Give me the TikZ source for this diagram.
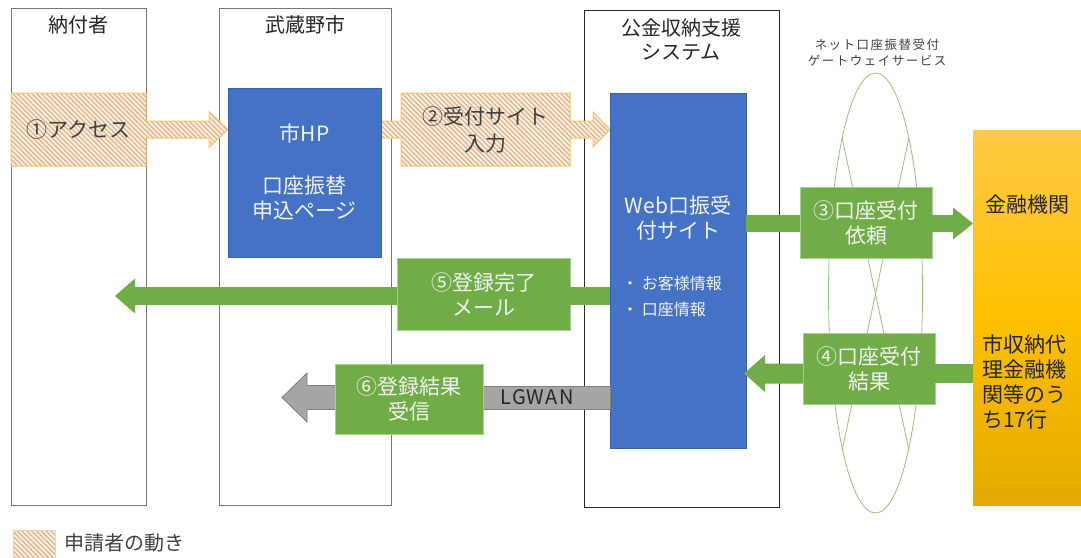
\documentclass[tikz,border=0pt]{standalone}
\usepackage{fontspec}
\setmainfont{Noto Sans CJK JP}
\usetikzlibrary{calc,patterns.meta,shapes.geometric}
\definecolor{blu}{HTML}{4472C4}
\definecolor{blud}{HTML}{3A62AA}
\definecolor{grn}{HTML}{70AD47}
\definecolor{grnl}{HTML}{A9D18E}
\definecolor{gwc}{HTML}{98C27C}
\definecolor{hatchbg}{HTML}{FAEEDF}
\definecolor{hatchln}{HTML}{DDB288}
\definecolor{hatchbd}{HTML}{F2C866}
\definecolor{gry}{HTML}{A5A5A5}
\definecolor{gryd}{HTML}{7F7F7F}
\definecolor{lanec}{HTML}{767676}
\definecolor{txt}{HTML}{404040}
\definecolor{wtxt}{HTML}{F2F2F2}
\definecolor{fintop}{HTML}{FFCA45}
\definecolor{finmid}{HTML}{FFC000}
\definecolor{finbot}{HTML}{E3AA00}
\pgfdeclarelayer{lanes}
\pgfdeclarelayer{shapes}
\pgfsetlayers{lanes,shapes,main}
% right block arrow: style, from, tip, shaft half, head half, head length
\newcommand{\barrowR}[6]{\path[#1] let \p1=#2, \p2=#3 in (\x1,{\y2+#4}) -- ({\x2-#6},{\y2+#4}) -- ({\x2-#6},{\y2+#5}) -- (\x2,\y2) -- ({\x2-#6},{\y2-#5}) -- ({\x2-#6},{\y2-#4}) -- (\x1,{\y2-#4}) -- cycle;}
\newcommand{\barrowL}[6]{\path[#1] let \p1=#2, \p2=#3 in (\x1,{\y2+#4}) -- ({\x2+#6},{\y2+#4}) -- ({\x2+#6},{\y2+#5}) -- (\x2,\y2) -- ({\x2+#6},{\y2-#5}) -- ({\x2+#6},{\y2-#4}) -- (\x1,{\y2-#4}) -- cycle;}
\tikzset{
  lane/.style={draw=#1, line width=0.9pt, anchor=north west, inner sep=0pt, outer sep=0pt},
  hdr/.style={text=black!85, align=center, font=\fontsize{20}{24}\selectfont, inner sep=0pt},
  hatchshape/.style={preaction={fill=hatchbg}, pattern={Lines[angle=-45,distance=3.4pt,line width=1.2pt]}, pattern color=hatchln, draw=hatchbd, line width=1pt},
  hatchbox/.style={anchor=north west, inner sep=0pt, outer sep=0pt},
  hatchtxt/.style={text=txt, align=center, font=\fontsize{21}{27}\selectfont, inner sep=0pt},
  bluebox/.style={fill=blu, draw=blud, line width=0.6pt, anchor=north west, inner sep=0pt, outer sep=0pt},
  wtext/.style={text=wtxt, align=center, font=\fontsize{21}{25}\selectfont, inner sep=0pt},
  gbox/.style={fill=grn, draw=grnl, line width=0.7pt, text=wtxt, align=center, font=\fontsize{21}{25}\selectfont, anchor=north west, inner sep=0pt, outer sep=0pt},
  garrow/.style={fill=grn},
  grarrow/.style={fill=gry, draw=gryd, line width=0.8pt},
  gwline/.style={draw=gwc, line width=0.8pt},
}
\begin{document}
\begin{tikzpicture}[x=1pt,y=-1pt]
\useasboundingbox (0,0) rectangle (1081,557);

% ---- lanes ----
\begin{pgfonlayer}{lanes}
\node[lane=lanec, minimum width=135pt, minimum height=497pt] (l1) at (11,8) {};
\node[lane=lanec, minimum width=172pt, minimum height=497pt] (l2) at (219,8) {};
\node[lane=black!85, minimum width=195pt, minimum height=497pt] (l3) at (584,10) {};
% gateway
\node[ellipse, gwline, minimum width=94pt, minimum height=440pt, inner sep=0pt] (gw) at (875.5,293) {};
\draw[gwline] ($(gw.center)+(-33.4,-155)$) -- ($(gw.center)+(33.4,157)$);
\draw[gwline] ($(gw.center)+(33.4,-155)$) -- ($(gw.center)+(-33.4,157)$);
\end{pgfonlayer}

\node[hdr] (h1) at (78,25) {納付者};
\node[hdr] (h2) at (305,25) {武蔵野市};
\node[hdr] (h3) at (681,40) {公金収納支援\\システム};
\node[text=black!75, align=center, font=\fontsize{12.5}{16}\selectfont\addfontfeatures{LetterSpace=12}, inner sep=0pt] (gwt) at (877,53) {ネット口座振替受付\\ゲートウェイサービス};

% ---- boxes ----
\node[bluebox, minimum width=153pt, minimum height=169pt] (hp) at (228,88) {};
\node[bluebox, minimum width=136pt, minimum height=355pt] (web) at (610,93) {};
\node[anchor=north west, inner sep=0pt, outer sep=0pt, minimum width=108pt, minimum height=375pt,
      top color=fintop, bottom color=finbot, middle color=finmid] (fin) at (973,130) {};

\node[hatchbox, minimum width=135pt, minimum height=73pt] (a1) at (11,93) {};
\node[hatchbox, minimum width=169pt, minimum height=73pt] (a2) at (401,93) {};

% ---- hatched callouts ----
\begin{pgfonlayer}{shapes}
\path[hatchshape] let \p1=(a1.east), \p2=(hp.west|-a1.east) in
  (a1.north west) -- (a1.north east) -- (\x1,{\y2+8.5pt}) -- ({\x2-19pt},{\y2+8.5pt}) -- ({\x2-19pt},{\y2+18pt})
  -- (\x2,\y2) -- ({\x2-19pt},{\y2-18pt}) -- ({\x2-19pt},{\y2-8.5pt}) -- (\x1,{\y2-8.5pt})
  -- (a1.south east) -- (a1.south west) -- cycle;
\path[hatchshape] let \p1=(hp.east|-a2.east), \p2=(web.west|-a2.east), \p3=(a2.north west), \p4=(a2.south east) in
  (\x1,{\y1+8.5pt}) -- (\x3,{\y1+8.5pt}) -- (\x3,\y3) -- (\x4,\y3) -- (\x4,{\y1+8.5pt})
  -- ({\x2-17pt},{\y1+8.5pt}) -- ({\x2-17pt},{\y1+17.5pt}) -- (\x2,\y1) -- ({\x2-17pt},{\y1-17.5pt})
  -- ({\x2-17pt},{\y1-8.5pt}) -- (\x4,{\y1-8.5pt}) -- (\x4,\y4) -- (\x3,\y4) -- (\x3,{\y1-8.5pt})
  -- (\x1,{\y1-8.5pt}) -- cycle;
\node[hatchshape, anchor=north west, inner sep=0pt, minimum width=42pt, minimum height=27pt, draw=hatchln!60, line width=0.6pt] (lg) at (13,530) {};
\end{pgfonlayer}
\node[hatchtxt] (a1t) at (a1.center) {①アクセス};
\node[hatchtxt] (a2t) at (a2.center) {②受付サイト\\入力};
\node[anchor=west, text=txt, font=\fontsize{20}{24}\selectfont, inner sep=0pt] (lgt) at (64,543) {申請者の動き};

% ---- box texts ----
\node[wtext] (hpt1) at (304.5,133) {市HP};
\node[wtext] (hpt2) at (304.5,198) {口座振替\\申込ページ};
\node[wtext] (webt1) at (678,218) {Web口振受\\付サイト};
\node[anchor=west, text=wtxt, align=left, font=\fontsize{16}{26}\selectfont, inner sep=0pt] (webt2) at (622,296) {・ お客様情報\\・ 口座情報};
\node[text=black!85, font=\fontsize{21}{25}\selectfont, inner sep=0pt] (fint1) at (1027,205) {金融機関};
\node[anchor=west, text=black!85, align=left, font=\fontsize{21}{25}\selectfont, inner sep=0pt] (fint2) at (982,382) {市収納代\\理金融機\\関等のう\\ち17行};

% ---- green flows ----
\node[gbox, minimum width=132pt, minimum height=71pt] (g3) at (800,187) {③口座受付\\依頼};
\node[gbox, minimum width=132pt, minimum height=71pt] (g4) at (803,333) {④口座受付\\結果};
\node[gbox, minimum width=173pt, minimum height=72pt] (g5) at (397,258) {⑤登録完了\\メール};

\coordinate (t5) at (115,296);
\coordinate (t6) at (282,397.5);

% 3
\fill[garrow] ($(web.east|-g3.west)+(0,-7.5)$) rectangle ($(g3.west)+(0,9.5)$);
\barrowR{garrow}{(g3.east)}{($(fin.west|-g3.east)+(0,1)$)}{8.5pt}{16pt}{20pt}
% 4
\fill[garrow] ($(g4.east)+(0,-4.5)$) rectangle ($(fin.west|-g4.east)+(0,14.5)$);
\barrowL{garrow}{(g4.west)}{($(web.east|-g4.west)+(-2,5)$)}{10pt}{18.5pt}{21pt}
% 5
\fill[garrow] ($(g5.east)+(0,-7)$) rectangle ($(web.west|-g5.east)+(0,11)$);
\barrowL{garrow}{(g5.west)}{(t5)}{9pt}{17.5pt}{20pt}
% 6
\coordinate (g6w) at (335,399);
\coordinate (g6e) at (483,399);
\barrowL{grarrow}{($(g6w)+(1,0)$)}{(t6)}{12pt}{24.5pt}{25pt}
\draw[fill=gry, draw=gryd, line width=0.8pt] ($(g6e)+(-1,-13)$) rectangle ($(web.west|-g6e)+(0,10)$);
\node[text=black!85, font=\fontsize{20}{24}\selectfont\addfontfeatures{LetterSpace=6}, inner sep=0pt] (lgwan) at (537,397.5) {LGWAN};
\node[gbox, minimum width=148pt, minimum height=70pt] (g6) at (335,364) {⑥登録結果\\受信};
\end{tikzpicture}
\end{document}
